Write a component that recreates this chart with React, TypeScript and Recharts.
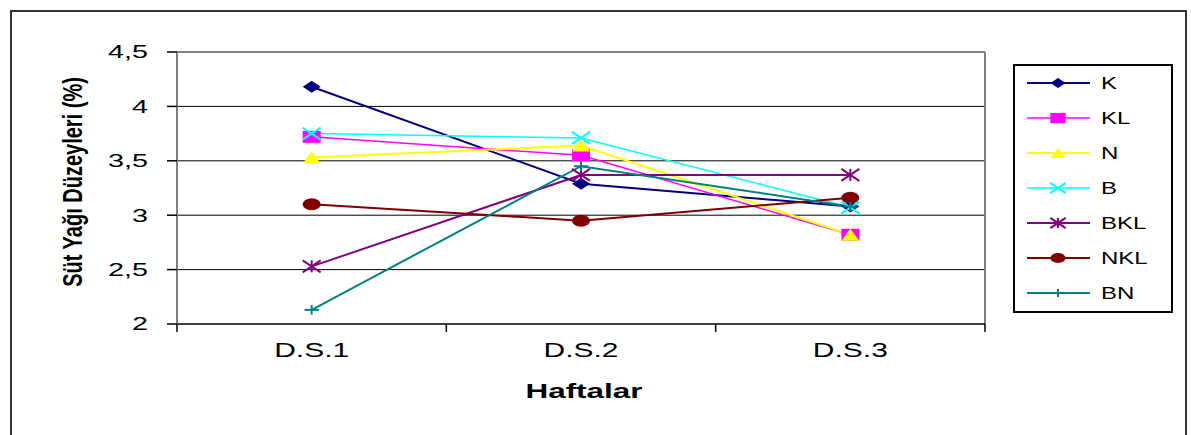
import React from "react";
import { CartesianGrid, Label, Legend, Line, LineChart, XAxis, YAxis } from "recharts";

const categories = ["D.S.1", "D.S.2", "D.S.3"];
const K = [4.18, 3.29, 3.08];
const KL = [3.72, 3.55, 2.82];
const N = [3.53, 3.64, 2.82];
const B = [3.75, 3.71, 3.07];
const BKL = [2.53, 3.37, 3.37];
const NKL = [3.1, 2.95, 3.16];
const BN = [2.13, 3.45, 3.08];
const yTicks = [2, 2.5, 3, 3.5, 4, 4.5];

const FONT = "'Liberation Sans', Arial, sans-serif";

type Kind = "diamond" | "square" | "triangle" | "x" | "star" | "circle" | "plus";

const series: Array<{ key: string; values: number[]; color: string; width: number; kind: Kind }> = [
  { key: "K", values: K, color: "#000080", width: 2, kind: "diamond" },
  { key: "KL", values: KL, color: "#ff00ff", width: 1.5, kind: "square" },
  { key: "N", values: N, color: "#ffff00", width: 2, kind: "triangle" },
  { key: "B", values: B, color: "#00ffff", width: 1.5, kind: "x" },
  { key: "BKL", values: BKL, color: "#800080", width: 2, kind: "star" },
  { key: "NKL", values: NKL, color: "#800000", width: 2, kind: "circle" },
  { key: "BN", values: BN, color: "#008080", width: 2, kind: "plus" },
];

const data = categories.map((week, i) => {
  const row: Record<string, string | number> = { week, pos: i + 0.5 };
  series.forEach((s) => {
    row[s.key] = s.values[i];
  });
  return row;
});

// the source image is stretched sideways, so text is scaled on x
function WideText({
  x,
  y,
  sx = 1.5,
  size,
  bold,
  anchor = "start",
  dy,
  children,
}: {
  x: number;
  y: number;
  sx?: number;
  size: number;
  bold?: boolean;
  anchor?: "start" | "middle" | "end";
  dy?: string;
  children: React.ReactNode;
}) {
  return (
    <text
      transform={`translate(${x} ${y}) scale(${sx} 1)`}
      x={0}
      y={0}
      dy={dy}
      textAnchor={anchor}
      fontSize={size}
      fontWeight={bold ? "bold" : "normal"}
      fill="#000"
      fontFamily={FONT}
    >
      {children}
    </text>
  );
}

function Marker({ kind, color, cx, cy, s = 1 }: { kind: Kind; color: string; cx: number; cy: number; s?: number }) {
  const w = 9 * s;
  const h = 6 * s;
  switch (kind) {
    case "diamond":
      return <polygon points={`${cx - w},${cy} ${cx},${cy - h} ${cx + w},${cy} ${cx},${cy + h}`} fill={color} />;
    case "square":
      return <rect x={cx - w} y={cy - h} width={w * 2} height={h * 2} fill={color} />;
    case "triangle":
      return <polygon points={`${cx - w},${cy + h} ${cx},${cy - h} ${cx + w},${cy + h}`} fill={color} />;
    case "circle":
      return <ellipse cx={cx} cy={cy} rx={w} ry={h} fill={color} />;
    case "x":
      return (
        <g stroke={color} strokeWidth={2}>
          <line x1={cx - w} y1={cy - h} x2={cx + w} y2={cy + h} />
          <line x1={cx - w} y1={cy + h} x2={cx + w} y2={cy - h} />
        </g>
      );
    case "star":
      return (
        <g stroke={color} strokeWidth={2}>
          <line x1={cx - w} y1={cy - h} x2={cx + w} y2={cy + h} />
          <line x1={cx - w} y1={cy + h} x2={cx + w} y2={cy - h} />
          <line x1={cx} y1={cy - h} x2={cx} y2={cy + h} />
        </g>
      );
    case "plus":
      return (
        <g stroke={color} strokeWidth={2}>
          <line x1={cx - w * 0.8} y1={cy} x2={cx + w * 0.8} y2={cy} />
          <line x1={cx} y1={cy - h * 0.8} x2={cx} y2={cy + h * 0.8} />
        </g>
      );
  }
}

function XTick(props: any) {
  const { x, y, payload } = props;
  const v = payload.value as number;
  if (Number.isInteger(v)) {
    return <line x1={x} y1={y} x2={x} y2={y + 8} stroke="#000" strokeWidth={1.5} />;
  }
  return (
    <WideText x={x} y={y + 33} size={20} anchor="middle">
      {categories[Math.floor(v)]}
    </WideText>
  );
}

function YTick(props: any) {
  const { x, y, payload } = props;
  return (
    <WideText x={x} y={y} size={18} sx={1.6} anchor="end" dy="0.355em">
      {String(payload.value).replace(".", ",")}
    </WideText>
  );
}

function LegendBox() {
  return (
    <svg width={160} height={249} style={{ display: "block" }}>
      <rect x={1} y={1} width={158} height={247} fill="#fff" stroke="#000" strokeWidth={2} />
      {series.map((s, i) => {
        const cy = 19 + i * 35;
        return (
          <g key={s.key}>
            <line x1={14} y1={cy} x2={77} y2={cy} stroke={s.color} strokeWidth={s.width} />
            <Marker kind={s.kind} color={s.color} cx={45} cy={cy} s={0.85} />
            <WideText x={88} y={cy + 6} size={16}>
              {s.key}
            </WideText>
          </g>
        );
      })}
    </svg>
  );
}

export default function App() {
  return (
    <div
      style={{
        position: "fixed",
        left: 10,
        top: 10,
        width: 1177,
        height: 440,
        border: "2px solid #333",
        boxSizing: "border-box",
        background: "#fff",
        fontFamily: FONT,
      }}
    >
      <LineChart width={1173} height={430} data={data} margin={{ top: 40, right: 200, left: 105, bottom: 58 }}>
        <CartesianGrid vertical={false} horizontalValues={[2.5, 3, 3.5, 4]} stroke="#000" strokeWidth={1} />
        <CartesianGrid
          horizontalValues={[4.5]}
          verticalCoordinatesGenerator={({ offset }: any) => [offset.left + offset.width]}
          stroke="#808080"
          strokeWidth={2}
        />
        <XAxis
          dataKey="pos"
          type="number"
          domain={[0, 3]}
          ticks={[0, 0.5, 1, 1.5, 2, 2.5, 3]}
          interval={0}
          height={60}
          tickSize={0}
          tickMargin={0}
          tickLine={false}
          tick={<XTick />}
          axisLine={{ stroke: "#000", strokeWidth: 1.5 }}
        >
          <Label
            content={(p: any) => {
              const vb = p.viewBox;
              return (
                <WideText x={vb.x + vb.width / 2 + 3} y={vb.y + 74} size={21} bold anchor="middle">
                  Haftalar
                </WideText>
              );
            }}
          />
        </XAxis>
        <YAxis
          type="number"
          domain={[2, 4.5]}
          ticks={yTicks}
          width={60}
          tickSize={10}
          tickMargin={19}
          tick={<YTick />}
          tickLine={{ stroke: "#000", strokeWidth: 1.5 }}
          axisLine={{ stroke: "#808080", strokeWidth: 2 }}
        >
          <Label
            content={(p: any) => {
              const vb = p.viewBox;
              const cx = vb.x - 45;
              const cy = vb.y + vb.height / 2 - 6;
              return (
                <text
                  transform={`translate(${cx} ${cy}) rotate(-90) scale(1 1.4)`}
                  x={0}
                  y={0}
                  textAnchor="middle"
                  dominantBaseline="central"
                  fontSize={20}
                  fontWeight="bold"
                  fill="#000"
                  fontFamily={FONT}
                >
                  Süt Yağı Düzeyleri (%)
                </text>
              );
            }}
          />
        </YAxis>
        <Legend
          layout="vertical"
          align="center"
          verticalAlign="middle"
          content={() => <LegendBox />}
          wrapperStyle={{ left: 1001, top: 52, width: 160 }}
        />
        {series.map((s) => (
          <Line
            key={s.key}
            dataKey={s.key}
            name={s.key}
            type="linear"
            stroke={s.color}
            strokeWidth={s.width}
            isAnimationActive={false}
            activeDot={false}
            dot={(p: any) => <Marker key={`${s.key}-${p.index}`} kind={s.kind} color={s.color} cx={p.cx} cy={p.cy} />}
          />
        ))}
      </LineChart>
    </div>
  );
}
